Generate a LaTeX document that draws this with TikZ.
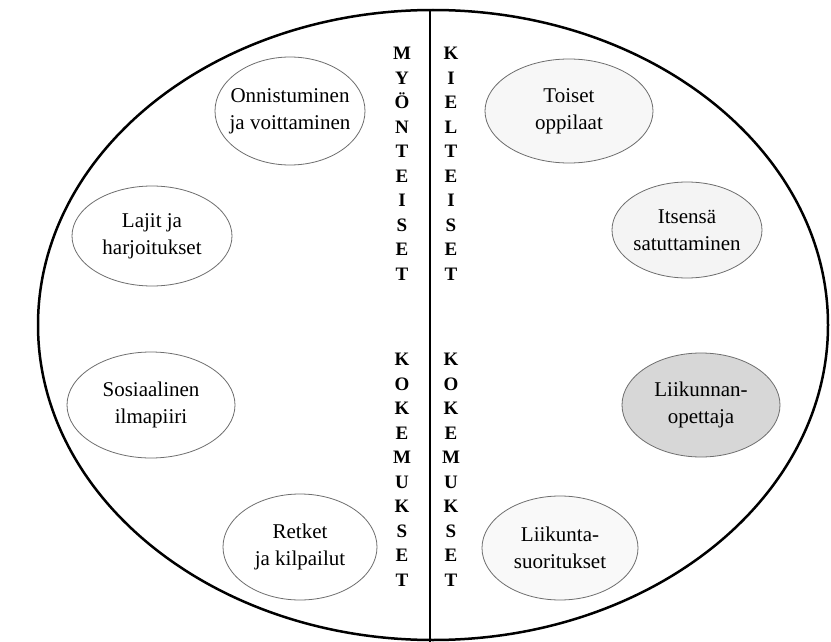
\documentclass[tikz,border=0pt]{standalone}
\usepackage{fontspec}
\setmainfont{Liberation Serif}
\usepackage{tikz}
\usepackage{color}
\definecolor{bubbleEdge}{RGB}{110,110,110}
\definecolor{bubbleGrey}{RGB}{215,215,215}
\newcommand{\bigoval}{(433,325) ellipse [x radius=395pt, y radius=315pt]}
\newcommand{\bubble}[7][white]{%
	\draw[bubbleline, fill=#1] (#3,#4) ellipse [x radius=#5pt, y radius=#6pt];
	\node[bubbletext] (#2) at (#3,#4) {#7};}
\tikzset{bubbleline/.style={draw=bubbleEdge, line width=0.8pt},
	bubbletext/.style={align=center, inner sep=0pt, font=\fontsize{21}{27}\selectfont},
	vword/.style={align=center, inner sep=0pt, font=\bfseries\fontsize{19}{24.5}\selectfont}}

\begin{document}
\begin{tikzpicture}[x=1pt, y=-1pt]
		\useasboundingbox (0,0) rectangle (831,642);
		\fill[white] (0,0) rectangle (831,642);
		
		\draw[line width=2.5pt] \bigoval;
		
		\coordinate (divtop) at (430,10);
		\coordinate (divbottom) at (430,642);
		\draw[line width=1.2pt] (divtop) -- (divbottom);
		
		% left half
		\bubble{onnistuminen}{290}{111}{75}{54}{Onnistuminen\\ja voittaminen}
		\bubble{lajit}{152}{236}{80}{50}{Lajit ja\\harjoitukset}
		\bubble{sosiaalinen}{151}{405}{84}{53}{Sosiaalinen\\ilmapiiri}
		\bubble{retket}{300}{547}{77}{53}{Retket\\ja kilpailut}
		
		% right half
		\bubble[gray!6]{toiset}{569}{111}{84}{52}{Toiset\\oppilaat}
		\bubble[gray!9]{itsensa}{687}{230}{75}{48}{Itsensä\\satuttaminen}
		\bubble[bubbleGrey]{liikunnan}{701}{405}{79}{52}{Liikunnan-\\opettaja}
		\bubble[gray!5]{liikunta}{560}{548}{78}{52}{Liikunta-\\suoritukset}
		
		\node[vword] (myonteiset) at (402,164) {M\\Y\\Ö\\N\\T\\E\\I\\S\\E\\T};
		\node[vword] (kielteiset) at (451,164) {K\\I\\E\\L\\T\\E\\I\\S\\E\\T};
		\node[vword] (kokemuksetL) at (402,470) {K\\O\\K\\E\\M\\U\\K\\S\\E\\T};
		\node[vword] (kokemuksetR) at (451,470) {K\\O\\K\\E\\M\\U\\K\\S\\E\\T};
	\end{tikzpicture}
\end{document}
